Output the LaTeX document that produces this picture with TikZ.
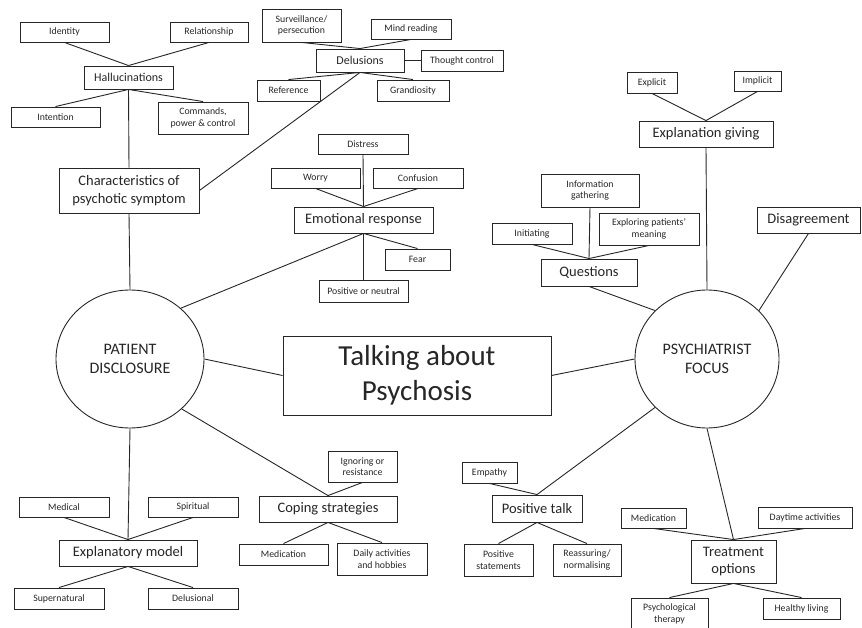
\documentclass[tikz,border=0pt]{standalone}
\usepackage{fontspec}
\setmainfont{Carlito}
\usetikzlibrary{shapes.geometric}

\begin{document}
\begin{tikzpicture}[x=1pt, y=-1pt, line width=0.9pt, color=black!85,
    leaf/.style={draw, rectangle, align=center, inner sep=1pt, font=\fontsize{9.8}{11.5}\selectfont},
    mid/.style={draw, rectangle, align=center, inner sep=1pt, font=\fontsize{12}{14}\selectfont},
    branch/.style={draw, rectangle, align=center, inner sep=1pt, font=\fontsize{14.5}{17.5}\selectfont},
    hub/.style={draw, ellipse, align=center, inner sep=0pt, minimum height=138pt, font=\fontsize{16}{19.5}\selectfont}]
    \useasboundingbox (0,0) rectangle (862,628);

    % patient side
    \node[leaf, minimum width=89pt, minimum height=20pt] (ident) at (64.5, 32) {Identity};
    \node[leaf, minimum width=78pt, minimum height=20pt] (relat) at (209, 32) {Relationship};
    \node[mid, minimum width=89pt, minimum height=23pt] (hall) at (128.5, 77.5) {Hallucinations};
    \node[leaf, minimum width=89pt, minimum height=20pt] (intent) at (55.5, 117) {Intention};
    \node[leaf, minimum width=90pt, minimum height=32pt] (cmds) at (203, 118) {Commands,\\power \& control};
    \node[branch, minimum width=140pt, minimum height=45pt] (charac) at (129, 190.5) {Characteristics of\\psychotic symptom};
    \node[leaf, minimum width=79pt, minimum height=33pt] (surv) at (301.5, 25.5) {Surveillance/\\persecution};
    \node[leaf, minimum width=80pt, minimum height=20pt] (mind) at (411, 29) {Mind reading};
    \node[mid, minimum width=88pt, minimum height=23pt] (delu) at (360, 60.5) {Delusions};
    \node[leaf, minimum width=82pt, minimum height=21pt] (thought) at (462, 60.5) {Thought control};
    \node[leaf, minimum width=63pt, minimum height=21pt] (refer) at (288.5, 90.5) {Reference};
    \node[leaf, minimum width=72pt, minimum height=21pt] (grand) at (413, 90.5) {Grandiosity};
    \node[leaf, minimum width=90pt, minimum height=20pt] (distr) at (363, 144) {Distress};
    \node[leaf, minimum width=89pt, minimum height=20pt] (worry) at (315.5, 178) {Worry};
    \node[leaf, minimum width=90pt, minimum height=20pt] (confu) at (418, 178) {Confusion};
    \node[branch, minimum width=139pt, minimum height=26pt] (emo) at (363.5, 220) {Emotional response};
    \node[leaf, minimum width=65pt, minimum height=21pt] (fear) at (417.5, 259.5) {Fear};
    \node[leaf, minimum width=89pt, minimum height=22pt] (posneu) at (363.5, 291) {Positive or neutral};
    \node[hub, minimum width=148pt] (pat) at (130, 359) {PATIENT\\DISCLOSURE};
    \node[leaf, minimum width=90pt, minimum height=20pt] (medi) at (64, 507) {Medical};
    \node[leaf, minimum width=90pt, minimum height=20pt] (spirit) at (193, 507) {Spiritual};
    \node[branch, minimum width=138pt, minimum height=26pt] (explm) at (128, 553) {Explanatory model};
    \node[leaf, minimum width=90pt, minimum height=21pt] (supern) at (59, 598.5) {Supernatural};
    \node[leaf, minimum width=90pt, minimum height=21pt] (delus) at (193, 598.5) {Delusional};
    \node[leaf, minimum width=69pt, minimum height=31pt] (ignor) at (362.5, 466.5) {Ignoring or\\resistance};
    \node[branch, minimum width=138pt, minimum height=26pt] (coping) at (328, 509) {Coping strategies};
    \node[leaf, minimum width=89pt, minimum height=21pt] (medc) at (283.5, 554.5) {Medication};
    \node[leaf, minimum width=90pt, minimum height=32pt] (daily) at (382, 559) {Daily activities\\and hobbies};

    % centre
    \node[draw, rectangle, align=center, minimum width=268pt, minimum height=79pt, font=\fontsize{29}{35}\selectfont] (talk) at (417, 375.5) {Talking about\\Psychosis};

    % psychiatrist side
    \node[leaf, minimum width=50pt, minimum height=21pt] (explic) at (652, 82.5) {Explicit};
    \node[leaf, minimum width=47pt, minimum height=20pt] (implic) at (757.5, 81) {Implicit};
    \node[branch, minimum width=134pt, minimum height=26pt] (expg) at (706, 134) {Explanation giving};
    \node[leaf, minimum width=98pt, minimum height=33pt] (info) at (590, 190.5) {Information\\gathering};
    \node[leaf, minimum width=80pt, minimum height=21pt] (init) at (532, 233.5) {Initiating};
    \node[leaf, minimum width=100pt, minimum height=32pt] (explor) at (649, 229) {Exploring patients’\\meaning};
    \node[branch, minimum width=96pt, minimum height=27pt] (quest) at (589, 272.5) {Questions};
    \node[branch, minimum width=103pt, minimum height=26pt] (disag) at (808.5, 220) {Disagreement};
    \node[hub, minimum width=144pt] (psy) at (707, 359) {PSYCHIATRIST\\FOCUS};
    \node[leaf, minimum width=55pt, minimum height=21pt] (empat) at (489.5, 472.5) {Empathy};
    \node[branch, minimum width=90pt, minimum height=27pt] (postalk) at (537, 508.5) {Positive talk};
    \node[leaf, minimum width=69pt, minimum height=32pt] (posstat) at (498.5, 560) {Positive\\statements};
    \node[leaf, minimum width=68pt, minimum height=32pt] (reass) at (587, 560) {Reassuring/\\normalising};
    \node[leaf, minimum width=65pt, minimum height=20pt] (medt) at (653.5, 518) {Medication};
    \node[leaf, minimum width=94pt, minimum height=21pt] (daytm) at (805, 517.5) {Daytime activities};
    \node[branch, minimum width=85pt, minimum height=43pt] (treat) at (733.5, 561.5) {Treatment\\options};
    \node[leaf, minimum width=77pt, minimum height=32pt] (psych) at (669.5, 614) {Psychological\\therapy};
    \node[leaf, minimum width=77pt, minimum height=21pt] (healthy) at (801.5, 608.5) {Healthy living};

    % connectors
    \draw (hall.north) -- (ident.south);
    \draw (hall.north) -- (relat.south);
    \draw (hall.south) -- (intent.north);
    \draw (hall.south) -- (cmds.north);
    \draw (hall.south) -- (charac.north);
    \draw (delu.north) -- (surv.south);
    \draw (delu.north) -- (mind.south);
    \draw (delu.east) -- (thought.west);
    \draw (delu.south) -- (refer.north);
    \draw (delu.south) -- (grand.north);
    \draw (delu.south) -- (charac.east);
    \draw (emo.north) -- (distr.south);
    \draw (emo.north) -- (worry.south);
    \draw (emo.north) -- (confu.south);
    \draw (emo.south) -- (fear.north);
    \draw (emo.south) -- (posneu.north);
    \draw (emo.south) -- (pat.45);
    \draw (charac.south) -- (pat.north);
    \draw (pat.east) -- (talk.west);
    \draw (pat.south) -- (explm.north);
    \draw (explm.north) -- (medi.south);
    \draw (explm.north) -- (spirit.south);
    \draw (explm.south) -- (supern.north);
    \draw (explm.south) -- (delus.north);
    \draw (pat.-44) -- (coping.north);
    \draw (coping.north) -- (ignor.south);
    \draw (coping.south) -- (medc.north);
    \draw (coping.south) -- (daily.north);
    \draw (psy.west) -- (talk.east);
    \draw (psy.137) -- (quest.south);
    \draw (quest.north) -- (init.south);
    \draw (quest.north) -- (info.south);
    \draw (quest.north) -- (explor.south);
    \draw (psy.north) -- (expg.south);
    \draw (expg.north) -- (explic.south);
    \draw (expg.north) -- (implic.south);
    \draw (psy.43) -- (disag.south);
    \draw (psy.223) -- (postalk.north);
    \draw (postalk.north) -- (empat.south);
    \draw (postalk.south) -- (posstat.north);
    \draw (postalk.south) -- (reass.north);
    \draw (psy.south) -- (treat.north);
    \draw (treat.north) -- (medt.south);
    \draw (treat.north) -- (daytm.south);
    \draw (treat.south) -- (psych.north);
    \draw (treat.south) -- (healthy.north);
\end{tikzpicture}
\end{document}
